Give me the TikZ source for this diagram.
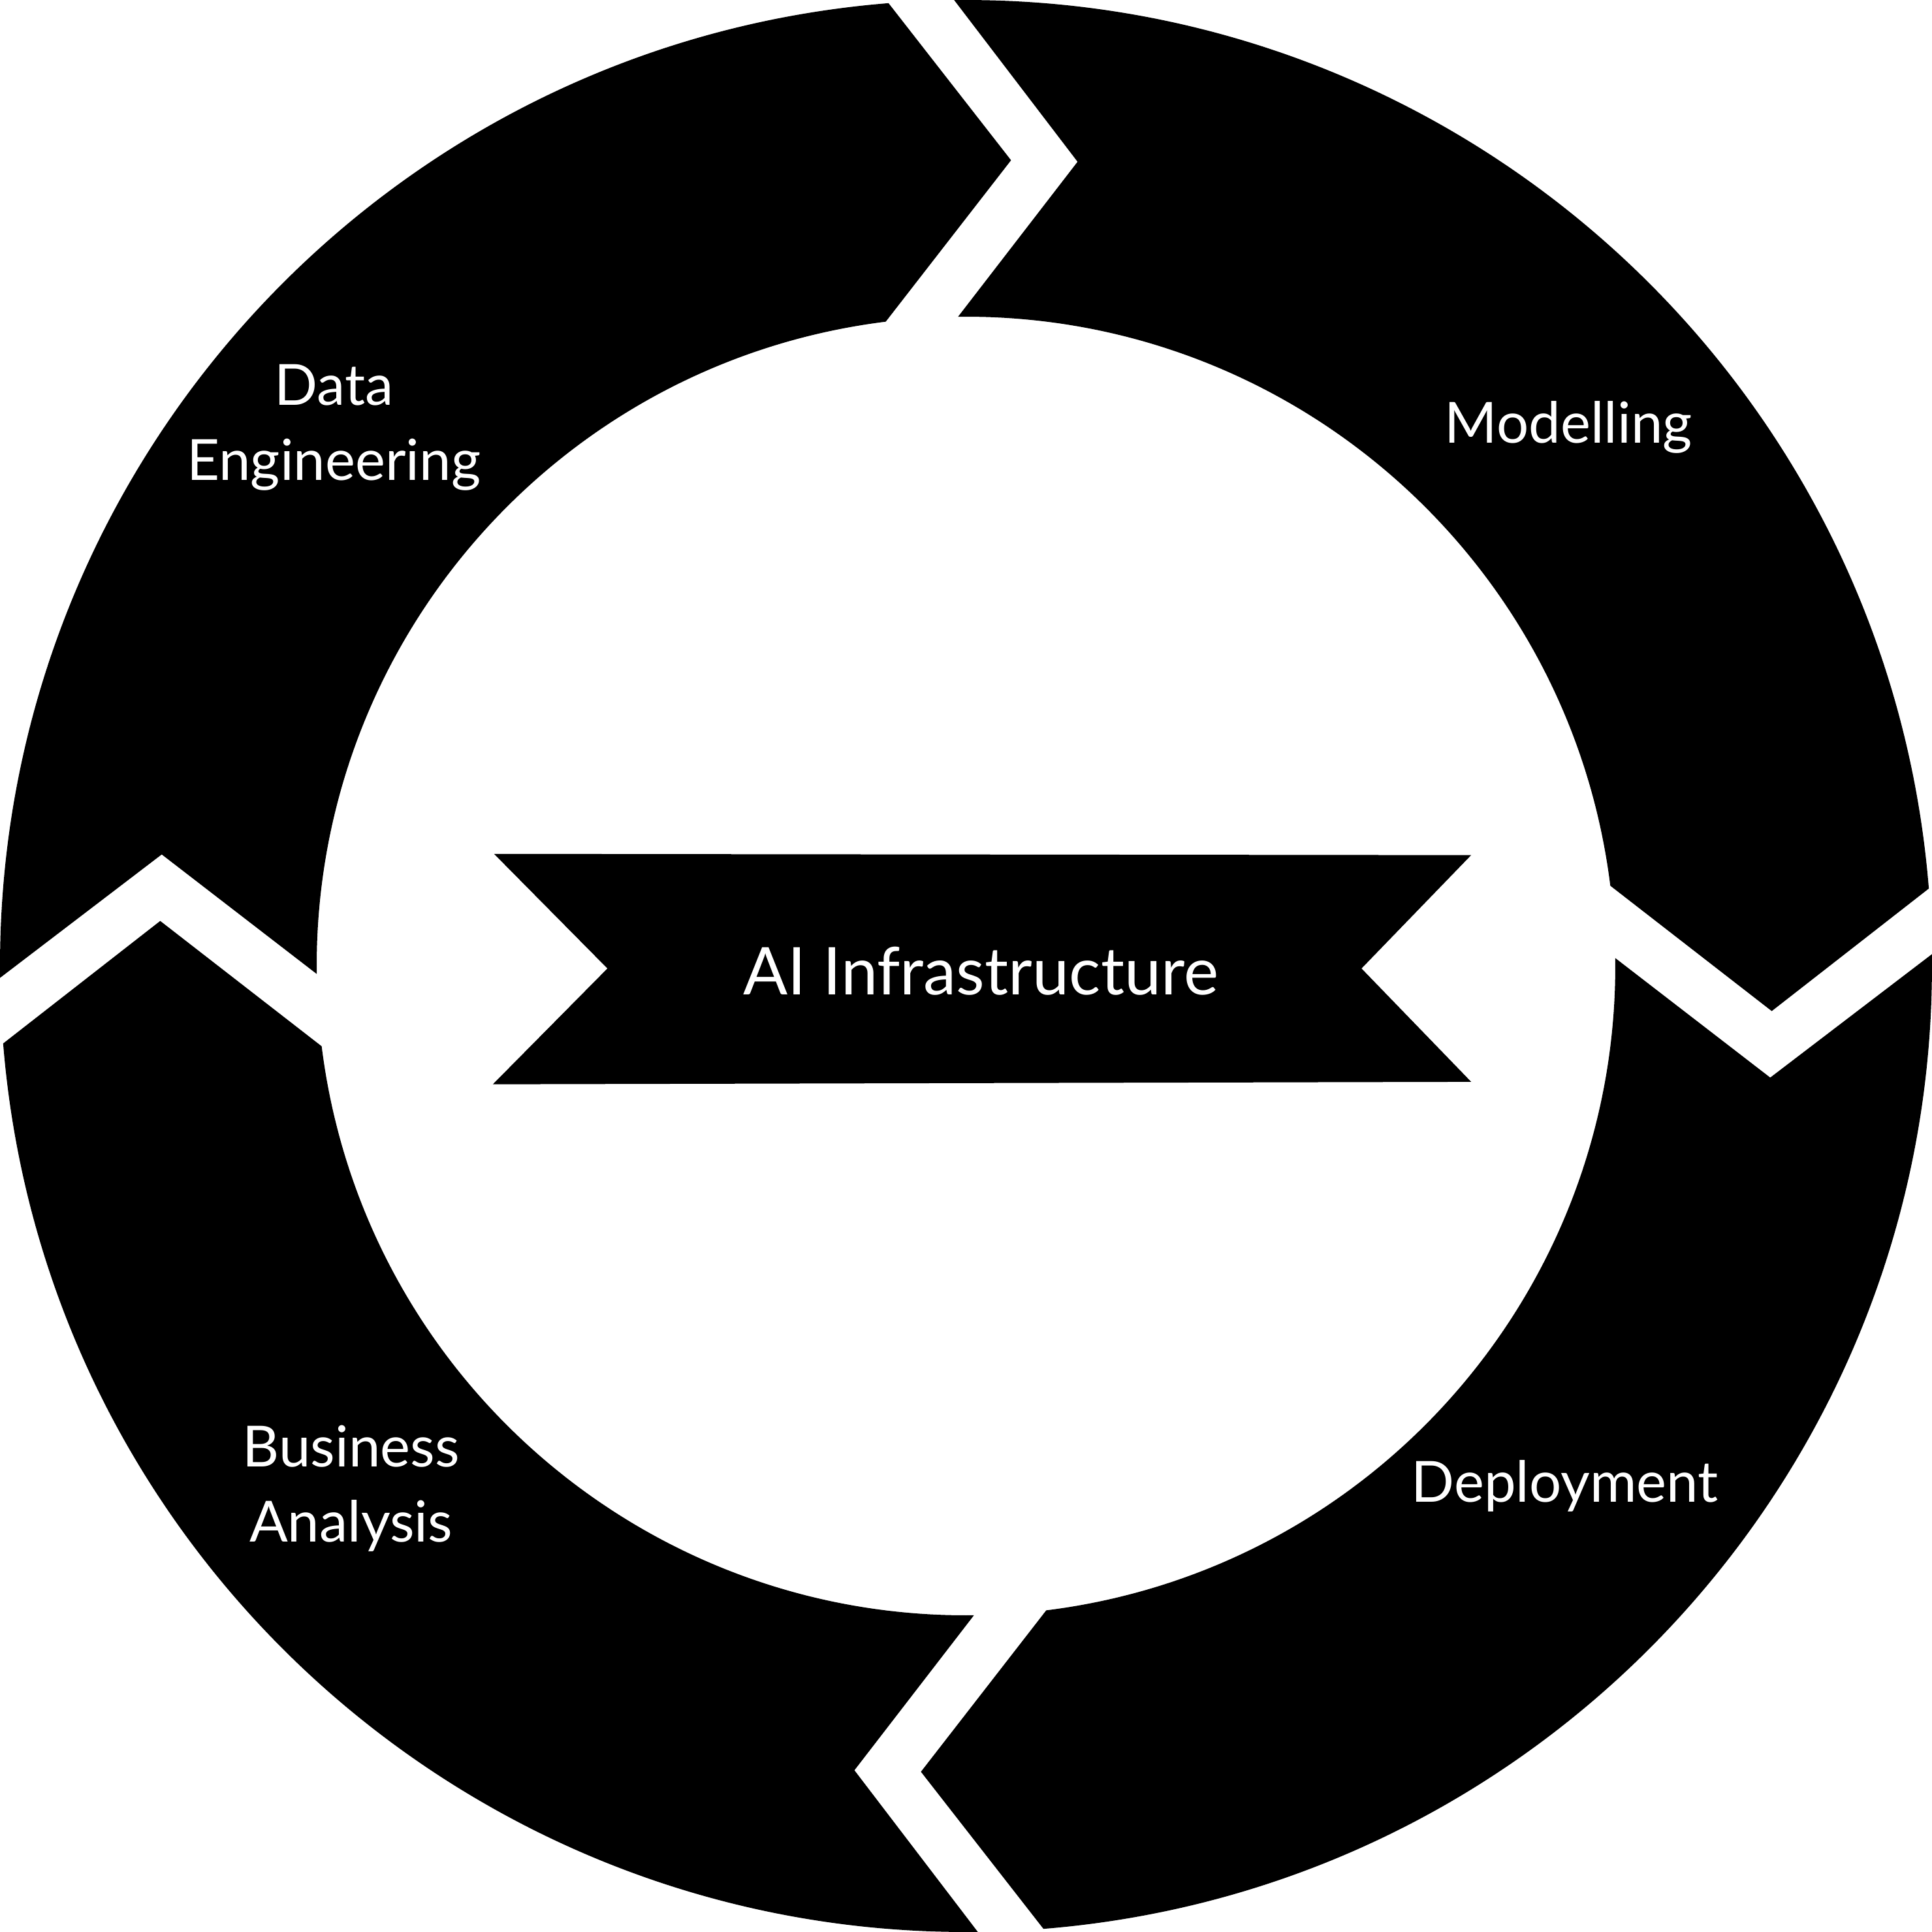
\documentclass[tikz,border=0pt]{standalone}
\usepackage{fontspec}
\setmainfont{Lato}
\usetikzlibrary{positioning}

\tikzset{
  stage/.style={fill=black, draw=none},
  stagelabel/.style={text=white, align=center, font=\fontsize{13.1}{17.4}\selectfont},
  banner/.style={fill=black, draw=none},
  bannerlabel/.style={text=white, font=\fontsize{15.2}{18}\selectfont}
}

\begin{document}
\begin{tikzpicture}[x=0.01cm, y=0.01cm]
\useasboundingbox (-784,-784) rectangle (784,784);

% four arrows of the ring, each turned by 90 degrees
\foreach \turn in {0,-90,-180,-270} {
  \begin{scope}[rotate=\turn]
    \fill [stage] (180.7:784) arc [start angle=180.7, end angle=94.6, radius=784]
      -- (86.8:655) -- (97.1:527)
      arc [start angle=97.1, end angle=180.7, radius=527]
      -- (172.1:659) -- cycle;
  \end{scope}
}

% centre banner
\coordinate (TL) at (-383,91);
\coordinate (TR) at (410,90);
\coordinate (RN) at (321,-2);
\coordinate (BR) at (410,-94);
\coordinate (BL) at (-384,-96);
\coordinate (LN) at (-291,-2);
\fill [banner] (TL)--(TR)--(RN)--(BR)--(BL)--(LN)--cycle;
\node [bannerlabel] (infra) at (12,-4) {AI Infrastructure};

\node [stagelabel] (data) at (-513,437) {Data\\Engineering};
\node [stagelabel] (model) at (489,437) {Modelling};
\node [stagelabel] (deploy) at (486,-422) {Deployment};
\node [stagelabel] (business) at (-499,-424) {Business\\Analysis};
\end{tikzpicture}
\end{document}
